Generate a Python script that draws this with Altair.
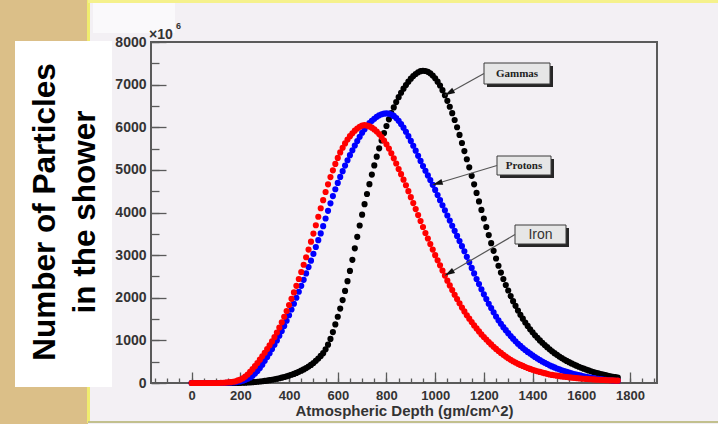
import math
import altair as alt
import pandas as pd

# Longitudinal shower profiles: number of particles (x10^6) vs atmospheric depth
DEPTH = list(range(0, 1751, 10))  # g/cm^2

GAMMAS = [
    0, 0, 0, 0, 0, 0, 0, 0, 0, 0,
    0, 0, 0, 0, 0, 0, 0, 0, 1, 2,
    3, 5, 8, 11, 15, 19, 24, 29, 35, 42,
    49, 57, 66, 76, 87, 99, 112, 126, 141, 157,
    174, 193, 214, 237, 262, 289, 318, 350, 385, 425,
    470, 520, 575, 635, 700, 790, 900, 1035, 1195, 1375,
    1555, 1745, 1945, 2160, 2390, 2630, 2890, 3160, 3430, 3695,
    3950, 4195, 4435, 4665, 4890, 5105, 5310, 5505, 5690, 5865,
    6030, 6185, 6330, 6465, 6590, 6705, 6810, 6905, 6990, 7070,
    7140, 7200, 7250, 7290, 7315, 7325, 7320, 7300, 7265, 7215,
    7150, 7070, 6980, 6870, 6750, 6620, 6480, 6330, 6170, 6000,
    5820, 5630, 5440, 5250, 5060, 4860, 4660, 4460, 4260, 4060,
    3860, 3660, 3470, 3280, 3100, 2920, 2750, 2590, 2440, 2300,
    2170, 2040, 1920, 1810, 1700, 1600, 1510, 1420, 1340, 1260,
    1190, 1120, 1060, 1000, 945, 890, 840, 790, 745, 700,
    660, 620, 585, 550, 518, 488, 460, 432, 406, 382,
    358, 336, 315, 295, 276, 258, 241, 225, 210, 196,
    183, 170, 158, 147, 136, 126,
]

PROTONS = [
    0, 0, 0, 0, 0, 0, 0, 0, 0, 0,
    0, 0, 0, 0, 5, 5, 10, 15, 20, 30,
    40, 55, 75, 100, 130, 170, 220, 280, 350, 430,
    520, 610, 700, 800, 900, 1000, 1110, 1220, 1340, 1460,
    1590, 1725, 1860, 2000, 2140, 2280, 2420, 2570, 2720, 2870,
    3030, 3190, 3350, 3510, 3680, 3860, 4040, 4215, 4385, 4545,
    4695, 4835, 4970, 5100, 5225, 5345, 5460, 5570, 5675, 5775,
    5870, 5955, 6030, 6095, 6150, 6200, 6245, 6280, 6305, 6320,
    6325, 6320, 6300, 6265, 6215, 6150, 6075, 5990, 5895, 5790,
    5680, 5565, 5450, 5330, 5210, 5090, 4980, 4870, 4760, 4650,
    4530, 4410, 4290, 4170, 4050, 3930, 3810, 3690, 3570, 3450,
    3330, 3210, 3090, 2960, 2830, 2700, 2570, 2440, 2320, 2200,
    2080, 1970, 1860, 1760, 1660, 1560, 1470, 1390, 1310, 1240,
    1170, 1100, 1040, 980, 920, 870, 820, 775, 730, 690,
    650, 610, 575, 540, 505, 475, 445, 415, 390, 365,
    340, 320, 300, 280, 262, 245, 228, 212, 197, 183,
    170, 158, 146, 135, 125, 115, 106, 98, 90, 83,
    76, 70, 64, 58, 53, 48,
]

IRON = [
    0, 0, 0, 0, 0, 0, 0, 0, 0, 0,
    0, 0, 5, 5, 10, 15, 20, 30, 40, 60,
    80, 110, 150, 200, 260, 325, 395, 470, 548, 628,
    710, 795, 883, 976, 1076, 1184, 1300, 1424, 1554, 1690,
    1830, 1975, 2125, 2280, 2440, 2605, 2775, 2950, 3130, 3315,
    3505, 3700, 3900, 4100, 4290, 4480, 4660, 4830, 4990, 5140,
    5280, 5410, 5520, 5620, 5710, 5790, 5860, 5920, 5970, 6010,
    6040, 6050, 6040, 6020, 5990, 5950, 5900, 5840, 5770, 5690,
    5600, 5500, 5390, 5270, 5150, 5020, 4900, 4770, 4640, 4500,
    4360, 4220, 4080, 3940, 3800, 3660, 3520, 3390, 3260, 3130,
    3000, 2880, 2760, 2640, 2520, 2400, 2290, 2180, 2070, 1970,
    1870, 1770, 1680, 1590, 1510, 1430, 1350, 1280, 1210, 1140,
    1080, 1020, 960, 905, 850, 800, 750, 705, 660, 620,
    580, 545, 510, 480, 450, 425, 400, 375, 352, 331,
    311, 292, 275, 260, 245, 230, 215, 200, 190, 181,
    172, 163, 155, 147, 140, 133, 127, 121, 115, 110,
    105, 100, 96, 92, 88, 84, 80, 77, 74, 71,
    68, 65, 62, 60, 57, 55,
]

X_TICKS = [0, 200, 400, 600, 800, 1000, 1200, 1400, 1600, 1800]
X_MINOR = list(range(-150, 1901, 50))
Y_TICKS = [0, 1000, 2000, 3000, 4000, 5000, 6000, 7000, 8000]
Y_MINOR = list(range(0, 8001, 500))

SERIES_NAMES = ["Gammas", "Protons", "Iron"]
SERIES_VALUES = [GAMMAS, PROTONS, IRON]
SERIES_COLORS = ["#000000", "#0000ff", "#ff0000"]

# ---- layout (pixels) ----
PAGE_W, PAGE_H = 718, 424
LEFT, TOP = 151, 42
W, H = 506, 341
X_DOMAIN = [-167, 1911]
Y_DOMAIN = [0, 8000]
KX = W / (X_DOMAIN[1] - X_DOMAIN[0])
KY = H / (Y_DOMAIN[1] - Y_DOMAIN[0])

FONT = "Liberation Sans"
FRAME = "#5a5a5a"
TEXT = "#333333"


def to_px(d, v):
    return (d - X_DOMAIN[0]) * KX, H - (v - Y_DOMAIN[0]) * KY


def to_data(px, py):
    return px / KX + X_DOMAIN[0], (H - py) / KY + Y_DOMAIN[0]


xs = alt.Scale(domain=X_DOMAIN, nice=False, zero=False)
ys = alt.Scale(domain=Y_DOMAIN, nice=False, zero=False)

# ---- axes: labels outside, ticks drawn inward from the frame ----
ax_x_labels = alt.Axis(orient="bottom", values=X_TICKS, ticks=False, domain=False, grid=False,
                       labelFont=FONT, labelFontSize=13, labelFontWeight="bold", labelColor=TEXT,
                       labelPadding=6, labelFlush=False, labelOverlap=False, format="d",
                       title="Atmospheric Depth (gm/cm^2)", titleFont=FONT, titleFontSize=15,
                       titleFontWeight="bold", titleColor=TEXT, titlePadding=1, zindex=1)
ax_x_major = alt.Axis(orient="top", offset=-H, values=X_TICKS, tickSize=11, tickColor=FRAME,
                      tickWidth=1.3, labels=False, domain=False, grid=False, title=None, zindex=0)
ax_x_minor = alt.Axis(orient="top", offset=-H, values=X_MINOR, tickSize=5, tickColor=FRAME,
                      tickWidth=1.3, labels=False, domain=False, grid=False, title=None, zindex=0)
ax_y_labels = alt.Axis(orient="left", values=Y_TICKS, ticks=False, domain=False, grid=False,
                       labelFont=FONT, labelFontSize=14, labelFontWeight="bold", labelColor=TEXT,
                       labelPadding=5, labelFlush=False, labelOverlap=False, format="d",
                       title=None, zindex=1)
ax_y_major = alt.Axis(orient="right", offset=-W, values=Y_TICKS, tickSize=15, tickColor=FRAME,
                      tickWidth=1.3, labels=False, domain=False, grid=False, title=None, zindex=0)
ax_y_minor = alt.Axis(orient="right", offset=-W, values=Y_MINOR, tickSize=8, tickColor=FRAME,
                      tickWidth=1.3, labels=False, domain=False, grid=False, title=None, zindex=0)

AXES = [(ax_x_labels, ax_y_labels), (ax_x_major, ax_y_major), (ax_x_minor, ax_y_minor)]

one_row = pd.DataFrame({"k": [0]})

# ---- slide decorations around the plotting frame (page pixels) ----
DECOR = [
    (0, 0, 88, 424, "#dbbf88"),        # parchment strip
    (87, 0, 90, 423, "#f0ec6e"),       # yellow canvas edge
    (88, 0, 718, 3, "#f5f18c"),
    (88, 421, 718, 423, "#c2c08e"),
    (93, 3, 175, 33, "#faf9fb"),
    (15, 41, 112, 387, "#ffffff"),     # y-title panel
]

layers = []
for x1, y1, x2, y2, col in DECOR:
    layers.append(
        alt.Chart(one_row).mark_rect(color=col).encode(
            x=alt.value(x1 - LEFT), x2=alt.value(x2 - LEFT),
            y=alt.value(y1 - TOP), y2=alt.value(y2 - TOP))
    )

layers.append(
    alt.Chart(one_row).mark_text(text="Number of Particles", angle=270, font=FONT, fontSize=31.5,
                                 fontWeight="bold", color="#000000", align="center",
                                 baseline="alphabetic")
    .encode(x=alt.value(55 - LEFT), y=alt.value(212 - TOP))
)
layers.append(
    alt.Chart(one_row).mark_text(text="in the shower", angle=270, font=FONT, fontSize=31.5,
                                 fontWeight="bold", color="#000000", align="center",
                                 baseline="alphabetic")
    .encode(x=alt.value(95 - LEFT), y=alt.value(212 - TOP))
)
layers.append(
    alt.Chart(one_row).mark_text(text="\u00d710", font=FONT, fontSize=14, fontWeight="bold",
                                 color=TEXT, align="left", baseline="alphabetic")
    .encode(x=alt.value(149 - LEFT), y=alt.value(39 - TOP))
)
layers.append(
    alt.Chart(one_row).mark_text(text="6", font=FONT, fontSize=9, fontWeight="bold",
                                 color=TEXT, align="left", baseline="alphabetic")
    .encode(x=alt.value(176 - LEFT), y=alt.value(29 - TOP))
)

# ---- the three profiles ----
for name, vals, col, (axx, axy) in zip(SERIES_NAMES, SERIES_VALUES, SERIES_COLORS, AXES):
    df = pd.DataFrame({"depth": DEPTH, "particles": vals, "primary": name})
    layers.append(
        alt.Chart(df).mark_circle(size=38, opacity=1, color=col).encode(
            x=alt.X("depth:Q", scale=xs, axis=axx),
            y=alt.Y("particles:Q", scale=ys, axis=axy))
    )

# ---- labelled callouts with arrows pointing at each curve ----
CALLOUT_BOX = [(484, 63, 550, 84), (497, 156, 551, 175), (515, 225, 566, 244)]
CALLOUT_TIP = [1040, 990, 1040]
SHADOW = 3
HEAD_LEN = 10

rows = []
for name, vals, (l, t, r, b), tip_d in zip(SERIES_NAMES, SERIES_VALUES, CALLOUT_BOX, CALLOUT_TIP):
    l, r, t, b = l - LEFT, r - LEFT, t - TOP, b - TOP
    tip_v = vals[DEPTH.index(tip_d)]
    tx, ty = to_px(tip_d, tip_v)
    sx, sy = l, (t + b) / 2
    ln = math.hypot(tx - sx, ty - sy)
    ux, uy = (tx - sx) / ln, (ty - sy) / ln
    hx, hy = tx - ux * HEAD_LEN / 2, ty - uy * HEAD_LEN / 2
    ang = math.degrees(math.atan2(ux, -uy)) % 360
    bx1, by1 = to_data(l, t)
    bx2, by2 = to_data(r, b)
    sx1, sy1 = to_data(l + SHADOW, t + SHADOW)
    sx2, sy2 = to_data(r + SHADOW, b + SHADOW)
    cx, cy = to_data((l + r) / 2, (t + b) / 2)
    lx, ly = to_data(sx, sy)
    hdx, hdy = to_data(hx, hy)
    rows.append(dict(label=name, bx1=bx1, bx2=bx2, by1=by1, by2=by2,
                     sx1=sx1, sx2=sx2, sy1=sy1, sy2=sy2, cx=cx, cy=cy,
                     lx=lx, ly=ly, tx=tip_d, ty=tip_v, hx=hdx, hy=hdy, angle=ang))
ann = pd.DataFrame(rows)

X_NOAX = dict(scale=xs, axis=None)
Y_NOAX = dict(scale=ys, axis=None)

layers.append(
    alt.Chart(ann).mark_rect(color="#262626").encode(
        x=alt.X("sx1:Q", **X_NOAX), x2="sx2:Q", y=alt.Y("sy1:Q", **Y_NOAX), y2="sy2:Q")
)
layers.append(
    alt.Chart(ann).mark_rect(fill="#e6e6e6", stroke="#3a3a3a", strokeWidth=1).encode(
        x=alt.X("bx1:Q", **X_NOAX), x2="bx2:Q", y=alt.Y("by1:Q", **Y_NOAX), y2="by2:Q")
)
layers.append(
    alt.Chart(ann).transform_filter(alt.datum.label != "Iron")
    .mark_text(font="Liberation Serif", fontSize=11, fontWeight="bold", color="#222222",
               align="center", baseline="middle")
    .encode(x=alt.X("cx:Q", **X_NOAX), y=alt.Y("cy:Q", **Y_NOAX), text="label:N")
)
layers.append(
    alt.Chart(ann).transform_filter(alt.datum.label == "Iron")
    .mark_text(font=FONT, fontSize=14, color="#333333", align="center", baseline="middle")
    .encode(x=alt.X("cx:Q", **X_NOAX), y=alt.Y("cy:Q", **Y_NOAX), text="label:N")
)
layers.append(
    alt.Chart(ann).mark_rule(color="#555555", strokeWidth=1.2).encode(
        x=alt.X("lx:Q", **X_NOAX), x2="tx:Q", y=alt.Y("ly:Q", **Y_NOAX), y2="ty:Q")
)
layers.append(
    alt.Chart(ann).mark_point(shape="M0,-1L0.6,1L-0.6,1Z", filled=True, color="#111111",
                              size=100, opacity=1)
    .encode(x=alt.X("hx:Q", **X_NOAX), y=alt.Y("hy:Q", **Y_NOAX),
            angle=alt.Angle("angle:Q", scale=None))
)

chart = (
    alt.layer(*layers)
    .resolve_axis(x="independent", y="independent")
    .properties(width=W, height=H,
                padding={"left": LEFT, "top": TOP, "right": PAGE_W - LEFT - W,
                         "bottom": PAGE_H - TOP - H},
                autosize=alt.AutoSizeParams(type="none"),
                background="#f3f0f4")
    .configure_view(stroke=FRAME, strokeWidth=2)
)

chart.save("out.html", embed_options={"renderer": "svg", "actions": False})
